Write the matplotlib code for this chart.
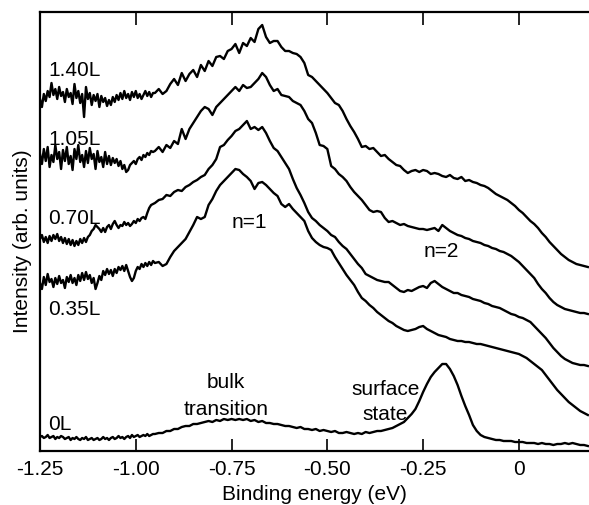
import numpy as np
import matplotlib
matplotlib.use("Agg")
import matplotlib.pyplot as plt

plt.rcParams['font.family'] = ['Liberation Sans', 'DejaVu Sans']
plt.rcParams['axes.unicode_minus'] = False

# Binding-energy grid (eV): fine sampling in the noisy low-energy part, coarser after
E_FINE = np.round(-1.25 + 0.005 * np.arange(60), 3)
E_MED = np.round(-0.95 + 0.01 * np.arange(114), 3)
energy = np.concatenate([E_FINE, E_MED])

# Intensities (arb. units, offset spectra as plotted)
L140 = [352,344,357,350,360,354,368,356,362,352,
        364,355,359,349,362,354,358,347,367,353,
        360,348,357,334,364,352,358,346,356,350,
        357,344,355,349,353,345,351,346,354,349,
        356,351,358,352,360,353,357,351,359,354,
        360,353,357,352,356,360,355,359,354,358,
        358,362,357,360,367,372,366,378,370,377,
        381,374,386,380,390,385,394,395,392,400,
        402,407,398,408,405,413,409,422,426,414,
        408,410,410,404,400,400,398,397,394,388,
        376,374,370,366,362,358,353,348,346,340,
        332,325,319,312,304,305,302,303,299,295,
        296,292,289,286,285,281,278,280,281,279,
        281,280,277,278,277,275,274,276,273,272,
        274,270,271,269,268,266,265,263,260,257,
        255,253,251,248,245,241,238,234,230,227,
        223,218,214,209,205,201,197,194,191,189,
        187,186,185,184]

L105 = [297,287,302,290,304,284,296,289,306,292,
        299,282,301,290,304,287,295,281,302,292,
        306,289,296,284,300,288,303,292,297,282,
        300,289,294,284,299,287,295,286,293,288,
        292,285,290,282,286,279,281,286,288,290,
        287,292,294,291,296,294,298,296,300,299,
        300,304,299,306,303,310,307,322,312,322,
        328,334,340,344,342,336,344,348,352,356,
        360,364,360,366,363,364,368,372,378,374,
        366,360,362,356,355,354,350,348,346,340,
        332,328,318,306,305,302,285,282,277,274,
        270,264,259,255,251,246,241,239,240,239,
        233,229,230,228,226,227,225,224,223,222,
        222,221,222,223,220,226,223,220,218,216,
        215,213,212,210,209,208,206,205,203,202,
        200,199,197,195,192,189,185,181,177,173,
        167,162,158,153,149,146,144,142,141,140,
        139,138,138,137]

L070 = [212,216,209,214,208,215,210,216,212,217,
        210,214,208,213,207,212,206,211,205,210,
        206,212,208,213,209,214,216,220,222,226,
        224,222,219,223,219,224,226,222,227,230,
        226,223,226,225,229,226,228,225,227,230,
        228,232,230,233,234,232,238,243,246,247,
        248,251,252,256,255,259,261,260,264,266,
        269,271,274,276,282,286,292,304,306,311,
        315,320,322,326,330,322,324,321,324,318,
        310,303,300,294,288,282,272,263,256,248,
        239,233,230,226,223,220,216,214,209,205,
        202,197,192,187,183,177,175,173,171,170,
        169,169,166,163,160,159,161,160,162,164,
        165,163,168,170,167,164,162,160,158,158,
        156,155,154,152,151,150,148,147,145,144,
        143,141,139,137,136,134,133,131,129,125,
        121,117,113,108,103,99,95,92,90,88,
        87,86,86,85]

L035 = [168,162,174,166,177,169,172,164,173,167,
        175,168,171,163,174,169,176,168,173,166,
        176,170,178,171,179,172,176,168,173,162,
        168,175,171,180,176,182,177,181,175,182,
        178,184,181,185,180,186,180,174,170,173,
        180,184,182,187,184,188,185,189,186,190,
        188,189,185,187,194,200,204,208,212,219,
        226,234,232,234,246,252,260,266,270,274,
        278,282,281,277,274,270,262,268,269,266,
        262,258,255,247,244,247,242,238,234,230,
        220,213,209,206,204,203,201,194,188,182,
        176,171,166,159,153,150,146,143,139,136,
        133,130,128,125,123,121,120,121,122,124,
        125,122,120,118,116,115,114,112,111,110,
        110,109,109,108,107,107,106,105,104,103,
        102,101,100,99,98,97,95,93,90,87,
        84,81,76,71,66,61,57,53,49,46,
        43,40,38,36]

L000 = [14,15,13,14,16,13,14,15,12,14,
        13,15,14,12,13,14,11,13,12,14,
        12,11,13,12,14,11,12,13,11,12,
        13,11,12,14,12,13,11,13,14,12,
        13,15,13,14,12,14,15,13,16,14,
        15,16,14,15,16,15,17,15,16,17,
        17,18,18,20,20,22,22,24,25,25,
        27,27,28,29,30,29,31,30,32,31,
        32,31,32,31,32,30,31,29,30,28,
        28,27,27,26,25,25,24,23,24,22,
        22,21,22,20,21,20,19,20,18,18,
        19,18,17,18,17,19,18,19,20,20,
        21,22,23,25,27,29,33,37,42,50,
        59,67,74,79,83,87,87,82,75,66,
        55,45,36,26,20,16,14,13,12,11,
        11,10,10,10,9,9,9,8,8,8,
        7,8,7,7,6,7,7,8,7,8,
        7,6,6,5]

series = [L140, L105, L070, L035, L000]
curve_labels = ["1.40L", "1.05L", "0.70L", "0.35L", "0L"]
label_y = [376, 307, 228, 137, 22]

tick_vals = [-1.25, -1.00, -0.75, -0.50, -0.25, 0.0]
tick_text = ["-1.25", "-1.00", "-0.75", "-0.50", "-0.25", "0"]

for s in series:
    assert len(s) == len(energy), (len(s), len(energy))

fig = plt.figure(figsize=(5.89, 5.06), dpi=100)
ax = fig.add_axes([40/589, 1 - 452/506, 549/589, 439/506])

for s in series:
    ax.plot(energy, s, color='black', lw=1.7, solid_joinstyle='round')

ax.set_xlim(-1.25, 0.183)
ax.set_ylim(0, 439)

ax.set_xticks(tick_vals)
ax.set_xticklabels(tick_text)
ax.set_yticks([])
ax.tick_params(axis='x', which='both', direction='in', top=True, bottom=True,
               length=9, width=1.2, labelsize=15, pad=6)
for side in ['left', 'bottom', 'top']:
    ax.spines[side].set_linewidth(1.6)
ax.spines['right'].set_visible(False)

ax.set_xlabel("Binding energy (eV)", fontsize=15, labelpad=4)
ax.set_ylabel("Intensity (arb. units)", fontsize=15)
ax.yaxis.set_label_coords(-0.015, 0.48)

for lab, yy in zip(curve_labels, label_y):
    ax.text(-1.229, yy, lab, fontsize=15, ha='left', va='baseline')

ax.text(-0.749, 224, "n=1", fontsize=15, ha='left', va='baseline')
ax.text(-0.25, 195, "n=2", fontsize=15, ha='left', va='baseline')
ax.text(-0.764, 64, "bulk", fontsize=15, ha='center', va='baseline')
ax.text(-0.764, 37, "transition", fontsize=15, ha='center', va='baseline')
ax.text(-0.349, 57, "surface", fontsize=15, ha='center', va='baseline')
ax.text(-0.349, 32, "state", fontsize=15, ha='center', va='baseline')

fig.savefig("out.png", dpi=100)
